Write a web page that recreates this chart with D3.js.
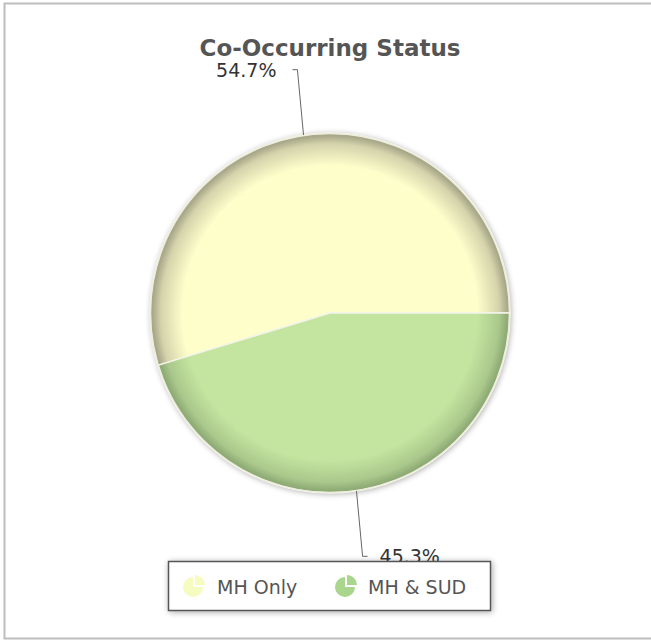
<!DOCTYPE html>
<html>
<head>
<meta charset="utf-8">
<script src="https://cdn.jsdelivr.net/npm/d3@7"></script>
<style>
  html, body { margin: 0; padding: 0; background: #fff; }
  svg { display: block; font-family: "DejaVu Sans", Verdana, sans-serif; }
</style>
</head>
<body>
<svg id="chart" width="651" height="641"></svg>
<script>
// Chart data
const title = "Co-Occurring Status";
const categories = ["MH Only", "MH & SUD"];
const values = [54.7, 45.3];
const colors = ["#fefecb", "#c3e5a0"];
const rimColors = ["#a9a88a", "#8fab76"];

const width = 651, height = 641;
const cx = 330, cy = 313, radius = 180;

const svg = d3.select("#chart");
const defs = svg.append("defs");

// Frame (top, left, bottom edges)
svg.append("path")
  .attr("d", "M651,3.5 H4.5 V638.5 H651")
  .style("fill", "none")
  .style("stroke", "#bdbdbd")
  .style("stroke-width", 2);

// Title
svg.append("text")
  .attr("x", cx)
  .attr("y", 56)
  .attr("text-anchor", "middle")
  .style("font-size", "23px")
  .style("font-weight", "bold")
  .style("fill", "#555")
  .text(title);

// Shadows
const shadow = defs.append("filter").attr("id", "shadow")
  .attr("x", "-20%").attr("y", "-20%").attr("width", "140%").attr("height", "140%");
shadow.append("feGaussianBlur").attr("in", "SourceAlpha").attr("stdDeviation", 3);
shadow.append("feOffset").attr("dx", 1).attr("dy", 1).attr("result", "b");
shadow.append("feComponentTransfer").append("feFuncA").attr("type", "linear").attr("slope", 0.35);
const merge = shadow.append("feMerge");
merge.append("feMergeNode");
merge.append("feMergeNode").attr("in", "SourceGraphic");

// Radial gradients per slice (lighter centre, darker rim)
categories.forEach((c, i) => {
  const g = defs.append("radialGradient")
    .attr("id", "grad" + i)
    .attr("gradientUnits", "userSpaceOnUse")
    .attr("cx", 0).attr("cy", 0).attr("r", radius);
  g.append("stop").attr("offset", "0%").attr("stop-color", colors[i]);
  g.append("stop").attr("offset", "82%").attr("stop-color", colors[i]);
  g.append("stop").attr("offset", "94%").attr("stop-color", d3.interpolateRgb(colors[i], rimColors[i])(0.5));
  g.append("stop").attr("offset", "98.5%").attr("stop-color", rimColors[i]);
  g.append("stop").attr("offset", "100%").attr("stop-color", rimColors[i]);
});

const pie = d3.pie()
  .sort(null)
  .value(d => d)
  .startAngle(Math.PI / 2)
  .endAngle(Math.PI / 2 - 2 * Math.PI);

const arcs = pie(values);
const arc = d3.arc().innerRadius(0).outerRadius(radius);

const pieG = svg.append("g").attr("transform", `translate(${cx},${cy})`);

pieG.append("circle")
  .attr("r", radius)
  .style("fill", "#fff")
  .attr("filter", "url(#shadow)");

pieG.selectAll("path.slice")
  .data(arcs)
  .join("path")
  .attr("class", "slice")
  .attr("d", arc)
  .style("fill", (d, i) => `url(#grad${i})`)
  .style("stroke", "#f4f4ea")
  .style("stroke-width", 1.5);

pieG.append("circle")
  .attr("r", radius - 0.5)
  .style("fill", "none")
  .style("stroke", "#eeeedd")
  .style("stroke-width", 1.5);

// Leader lines and value labels
const leaderR = 246;
arcs.forEach((d, i) => {
  const a = (d.startAngle + d.endAngle) / 2;
  const x0 = Math.sin(a) * radius, y0 = -Math.cos(a) * radius;
  const x1 = Math.sin(a) * leaderR * 0.9, y1 = -Math.cos(a) * leaderR;
  const side = x1 < 0 ? -1 : 1;
  const x2 = x1 + side * 5;
  pieG.append("polyline")
    .attr("points", [[x0, y0], [x1, y1], [x2, y1]].map(p => p.join(",")).join(" "))
    .style("fill", "none")
    .style("stroke", "#666")
    .style("stroke-width", 1);
  pieG.append("text")
    .attr("x", x2 + side * (side < 0 ? 16 : 12))
    .attr("y", y1 + 7)
    .attr("text-anchor", side < 0 ? "end" : "start")
    .style("font-size", "19px")
    .style("fill", "#333")
    .text(d3.format(".1f")(values[i]) + "%");
});

// Legend
const legend = svg.append("g");
legend.append("rect")
  .attr("x", 168.5).attr("y", 561.5)
  .attr("width", 322).attr("height", 49)
  .style("fill", "#fff")
  .style("stroke", "#555")
  .style("stroke-width", 1.5)
  .attr("filter", "url(#shadow)");

const iconX = [193, 345];
const textX = [217, 368];
const iconArc = d3.arc().innerRadius(0).outerRadius(10);
categories.forEach((c, i) => {
  const ig = legend.append("g").attr("transform", `translate(${iconX[i]},587)`);
  ig.append("path")
    .attr("d", iconArc({ startAngle: Math.PI / 2, endAngle: 2 * Math.PI }))
    .style("fill", i === 0 ? "#f6fbc0" : "#a9d68c");
  ig.append("path")
    .attr("transform", "translate(2,-2)")
    .attr("d", iconArc({ startAngle: 0, endAngle: Math.PI / 2 }))
    .style("fill", i === 0 ? "#f6fbc0" : "#a9d68c");
  legend.append("text")
    .attr("x", textX[i])
    .attr("y", 594)
    .style("font-size", "19px")
    .style("fill", "#555")
    .text(c);
});
</script>
</body>
</html>
